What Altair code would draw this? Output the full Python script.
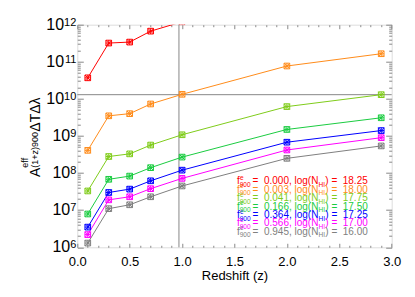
import altair as alt
import pandas as pd

# ---------------- data ----------------
z = [0.1, 0.3, 0.5, 0.7, 1.0, 2.0, 2.9]
f900 = ["0.000", "0.003", "0.041", "0.166", "0.364", "0.566", "0.945"]
logNHI = ["18.25", "18.00", "17.75", "17.50", "17.25", "17.00", "16.00"]
colors = ["#ff0000", "#ff8c1a", "#80cc1a", "#1acc40", "#0000ff", "#ff00ff", "#808080"]

A_red = [3.7e10, 3.2e11, 3.4e11, 6.7e11, 1.2e12, 7.0e12, 1.6e13]
A_orange = [4.1e8, 3.5e9, 4.0e9, 7.3e9, 1.33e10, 7.7e10, 1.65e11]
A_lgreen = [3.3e7, 2.8e8, 3.3e8, 5.7e8, 1.08e9, 6.2e9, 1.3e10]
A_green = [7.9e6, 6.8e7, 8.3e7, 1.4e8, 2.7e8, 1.5e9, 3.1e9]
A_blue = [3.5e6, 3.0e7, 3.7e7, 6.2e7, 1.2e8, 6.8e8, 1.4e9]
A_magenta = [2.2e6, 1.9e7, 2.3e7, 3.8e7, 7.2e7, 4.2e8, 9.0e8]
A_grey = [1.3e6, 1.1e7, 1.4e7, 2.3e7, 4.5e7, 2.5e8, 5.4e8]

hline_A = [1.3e10]
vline_z = [0.97]

x_major = [0.0, 0.5, 1.0, 1.5, 2.0, 2.5, 3.0]
y_exps = [6, 7, 8, 9, 10, 11, 12]

# ---------------- build tables ----------------
series_vals = [A_red, A_orange, A_lgreen, A_green, A_blue, A_magenta, A_grey]
rows = []
for f, vals in zip(f900, series_vals):
    for zz, v in zip(z, vals):
        rows.append({"z": zz, "A": v, "series": f})
df = pd.DataFrame(rows)

x_minor = [round(0.1 * i, 1) for i in range(31) if i % 5]
y_major = [10.0 ** e for e in y_exps]
y_minor = [k * 10.0 ** e for e in y_exps[:-1] for k in range(2, 10)]

FRAME = "#888888"
FONT = "Liberation Sans"
W, H = 314.4, 222.6

cscale = alt.Scale(domain=f900, range=colors)
xs = alt.Scale(domain=[0, 3], nice=False, zero=False)
ys = alt.Scale(type="log", domain=[1e6, 1e12], nice=False)
col = alt.Color("series:N", scale=cscale, legend=None)

MARKER = ("M-1,-1L1,-1L1,1L-1,1ZM-1,-1L1,1M-1,1L1,-1"
          "M0,-1L0,1M-1,0L1,0")


def tick_axis(orient, values, size, offset):
    return alt.Axis(orient=orient, values=values, tickSize=size, offset=offset,
                    labels=False, domain=False, grid=False, tickColor=FRAME,
                    tickWidth=1, title=None)


x_label_axis = alt.Axis(orient="bottom", values=x_major, format=".1f", ticks=False,
                        tickSize=0, domain=False, grid=False, labelFlush=False,
                        labelOverlap=False, labelFontSize=13, labelFont=FONT,
                        labelColor="black", labelPadding=8, title="Redshift (z)",
                        titleFont=FONT, titleFontSize=13, titleFontWeight="normal",
                        titleColor="black", titlePadding=1)

lines = alt.Chart(df).mark_line(strokeWidth=1, clip=True).encode(
    x=alt.X("z:Q", scale=xs, axis=x_label_axis),
    y=alt.Y("A:Q", scale=ys, axis=tick_axis("right", y_major, 6, -W)),
    color=col,
)

pts = alt.Chart(df).mark_point(shape=MARKER, size=32, filled=False, strokeWidth=1,
                               opacity=1, clip=True).encode(
    x=alt.X("z:Q", scale=xs, axis=tick_axis("top", x_major, 4, -H)),
    y=alt.Y("A:Q", scale=ys, axis=tick_axis("right", y_minor, 3, -W)),
    color=col,
)

hline = alt.Chart(pd.DataFrame({"h": hline_A})).mark_rule(color=FRAME, strokeWidth=1).encode(
    y=alt.Y("h:Q", scale=ys, axis=tick_axis("left", y_major, 6, -W)),
)

vline = alt.Chart(pd.DataFrame({"v": vline_z})).mark_rule(color=FRAME, strokeWidth=1).encode(
    x=alt.X("v:Q", scale=xs, axis=tick_axis("top", x_minor, 2, -H)),
)

inv1 = alt.Chart(df).mark_point(opacity=0).encode(
    x=alt.X("z:Q", scale=xs, axis=tick_axis("bottom", x_major, 4, -H)),
    y=alt.Y("A:Q", scale=ys, axis=tick_axis("left", y_minor, 3, -W)),
)
inv2 = alt.Chart(df).mark_point(opacity=0).encode(
    x=alt.X("z:Q", scale=xs, axis=tick_axis("bottom", x_minor, 2, -H)),
    y=alt.Y("A:Q", scale=ys, axis=None),
)

# y tick labels 10^n
EXPW = 6.1
ylab = alt.Chart(pd.DataFrame({"e": y_exps})).transform_calculate(
    v="pow(10, datum.e)", ex="toString(datum.e)",
    lx=f"-1 - {EXPW} * length(toString(datum.e))")
ten = ylab.mark_text(align="right", baseline="middle", fontSize=16, font=FONT,
                     color="black").encode(
    x=alt.X("lx:Q", scale=None, axis=None),
    y=alt.Y("v:Q", scale=ys, axis=None),
    text=alt.value("10"))
expo = ylab.mark_text(align="right", baseline="alphabetic", fontSize=11, dy=1,
                      font=FONT, color="black").encode(
    x=alt.value(-1),
    y=alt.Y("v:Q", scale=ys, axis=None),
    text="ex:N")


# y title pieces (rotated)
def title_piece(txt, x, y, size):
    return alt.Chart(pd.DataFrame({"t": [txt]})).mark_text(
        angle=270, align="left", baseline="alphabetic", fontSize=size, font=FONT,
        color="black").encode(x=alt.value(x), y=alt.value(y), text="t:N")


ytitle = [
    title_piece("A", -37.3, 152.3, 14),
    title_piece("eff", -49.0, 143.0, 9),
    title_piece("(1+z)900", -39.5, 143.0, 9),
    title_piece("\u0394T\u0394\u03bb", -37.3, 107.0, 14),
]

# legend text
leg_df = pd.DataFrame({"series": f900, "logN": logNHI, "i": list(range(len(f900)))})
LY0, LDY = 159.8, 8.4
lb = alt.Chart(leg_df).transform_calculate(ly=f"{LY0} + {LDY} * datum.i")


def ltext(expr, x, size, dy=0):
    return lb.transform_calculate(t=expr).mark_text(
        align="left", baseline="alphabetic", fontSize=size, font=FONT, dy=dy).encode(
        x=alt.value(x), y=alt.Y("ly:Q", scale=None, axis=None), text="t:N", color=col)


NB = "\u00a0"
legend = [
    ltext("'f'", 159.7, 10),
    ltext("'e'", 162.6, 6.5, -4.5),
    ltext("'900'", 162.4, 6.5, 2.5),
    ltext(f"'={NB} ' + datum.series + ', log(N'", 175.3, 10),
    ltext("'HI'", 241.2, 6.5, 2.5),
    ltext(f"') ={NB} ' + datum.logN", 248.0, 10),
]

chart = alt.layer(
    hline, vline, inv1, inv2, lines, pts, ten, expo, *ytitle, *legend
).resolve_axis(x="independent", y="independent").properties(
    width=W, height=H,
    autosize=alt.AutoSizeParams(type="none"),
    padding={"left": 69.3, "top": 16.7, "right": 15.0, "bottom": 41.0},
).configure_view(stroke=FRAME, strokeWidth=1).configure(font=FONT)

chart.save("out.html", embed_options={"renderer": "svg", "actions": False})
